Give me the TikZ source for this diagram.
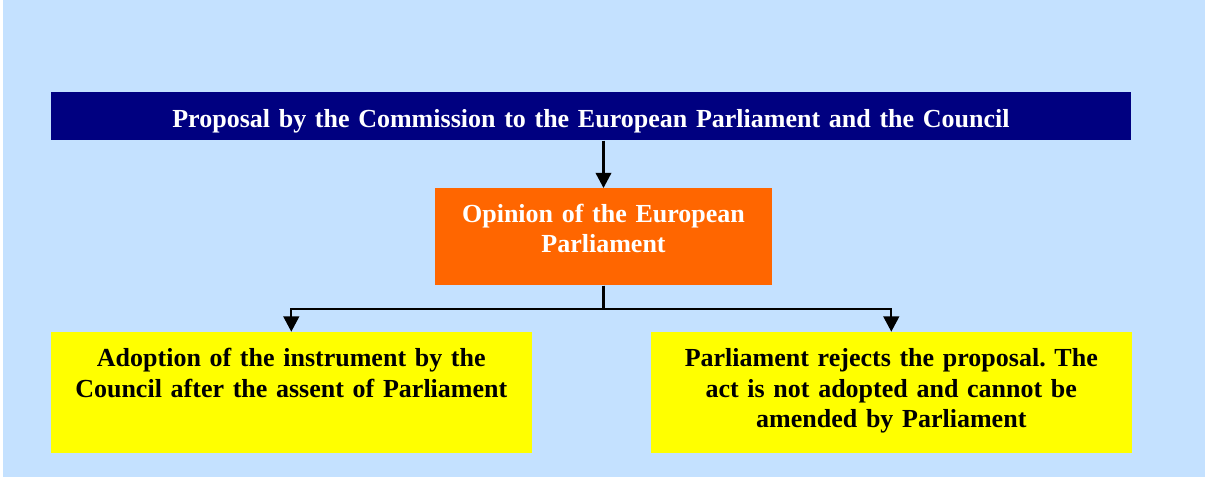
\documentclass[tikz,border=0pt]{standalone}
\usepackage{fontspec}
\setmainfont{Liberation Serif}
\usetikzlibrary{arrows.meta}

\definecolor{skyback}{RGB}{196,225,255}
\definecolor{commnavy}{RGB}{0,0,128}
\definecolor{eporange}{RGB}{255,102,0}
\definecolor{outyellow}{RGB}{255,255,0}

\begin{document}
\frenchspacing
\begin{tikzpicture}[x=0.025cm, y=-0.025cm,
    stage/.style={inner sep=0pt, align=center,
      font=\fontsize{18.5}{21.4}\selectfont\bfseries},
    flow/.style={line width=1.5pt, -{Triangle[width=0.39cm, length=0.38cm]}}]
    % ---- page and background ----
    \useasboundingbox[fill=white] (0,0) rectangle (1205,477);
    \fill[skyback] (3,0) rectangle (1205,477);
    % ---- boxes ----
    \node[stage, fill=commnavy, text=white, anchor=north,
          text width=27cm, text height=0.88cm, text depth=0.32cm]
      (proposal) at (591,92)
      {Proposal by the Commission to the European Parliament and the Council};
    \node[stage, fill=eporange, text=white, anchor=north,
          text width=8.425cm, text height=0.845cm, text depth=1.58cm]
      (opinion) at (603.5,188)
      {Opinion of the European\\Parliament};
    \node[stage, fill=outyellow, anchor=north,
          text width=12.02cm, text height=0.875cm, text depth=2.15cm]
      (assent) at (291.3,331.7)
      {Adoption of the instrument by the\\Council after the assent of Parliament};
    \node[stage, fill=outyellow, anchor=north,
          text width=12.02cm, text height=0.875cm, text depth=2.15cm]
      (reject) at (891.3,331.7)
      {Parliament rejects the proposal. The\\act is not adopted and cannot be\\amended by Parliament};
    % ---- connectors ----
    \draw[flow] (opinion.north |- proposal.south) -- (opinion.north);
    \draw[flow] (opinion.south) -- ++(0,23) -| (assent.north);
    \draw[flow] (opinion.south) -- ++(0,23) -| (reject.north);
\end{tikzpicture}
\end{document}
